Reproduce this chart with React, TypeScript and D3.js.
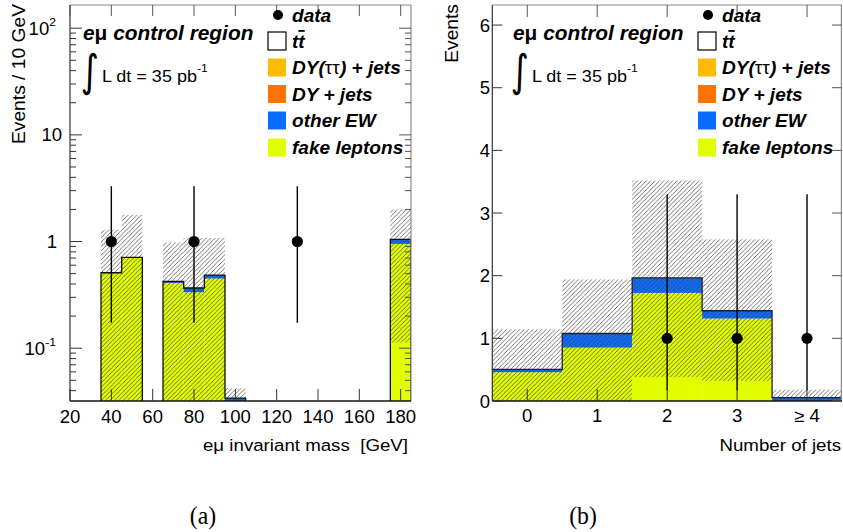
import React from 'react';
import * as d3 from 'd3';

// ---------- data: panel (a) e-mu invariant mass ----------
const massCenters = [40, 50, 70, 80, 90, 100, 180];
const massFake = [0.51, 0.71, 0.41, 0.335, 0.45, 0, 0.95];
const massOtherEW = [0, 0, 0.012, 0.032, 0.035, 0.034, 0.1];
const massBandHigh = [1.29, 1.78, 0.98, 1.08, 1.08, 0.042, 2.0];
const massBandLow = [0, 0, 0, 0, 0, 0, 0.113];
const massDataX = [40, 80, 130];
const massDataY = [1, 1, 1];
const massDataLow = [0.173, 0.173, 0.173];
const massDataHigh = [3.3, 3.3, 3.3];
const massTicks = [20, 40, 60, 80, 100, 120, 140, 160, 180];
const logMajor = [0.1, 1, 10, 100];
const logLabels = [['10', '-1'], ['1', ''], ['10', ''], ['10', '2']];

// ---------- data: panel (b) number of jets ----------
const jetLabels = ['0', '1', '2', '3', '\u2265 4'];
const jetFake = [0.46, 0.853, 1.725, 1.316, 0];
const jetOtherEW = [0.046, 0.224, 0.24, 0.124, 0.055];
const jetBandHigh = [1.145, 1.94, 3.52, 2.58, 0.18];
const jetBandLow = [0, 0, 0.38, 0.32, 0];
const jetDataBins = [2, 3, 4];
const jetDataY = [1, 1, 1];
const jetDataLow = [0.173, 0.173, 0.173];
const jetDataHigh = [3.3, 3.3, 3.3];
const jetYTicks = [0, 1, 2, 3, 4, 5, 6];

// ---------- legend ----------
const legendNames = ['data', 'tt', 'DY(\u03c4\u03c4) + jets', 'DY + jets', 'other EW', 'fake leptons'];
const legendColors = ['#000000', '#ffffff', '#ffbb00', '#ff7400', '#0a6cff', '#e1ff00'];

const SANS = 'Liberation Sans, Arial, Helvetica, sans-serif';
const SERIF = 'Liberation Serif, DejaVu Serif, serif';
const FAKE_COLOR = legendColors[5];
const EW_COLOR = legendColors[4];

function T(props: any) {
  const { x, y, sx = 1.1, anchor = 'start', size = 17, weight = 'normal', fstyle = 'normal', rotate = 0, family = SANS, children, fill = '#000' } = props;
  return (
    <text
      transform={`translate(${x},${y})${rotate ? ` rotate(${rotate})` : ''} scale(${sx},1)`}
      textAnchor={anchor}
      fontSize={size}
      fontWeight={weight}
      fontStyle={fstyle}
      fontFamily={family}
      fill={fill}
    >
      {children}
    </text>
  );
}

function Legend({ dx }: { dx: number }) {
  const bx = 268 + dx;
  const tx = 292 + dx;
  const rows = [15, 41, 67.5, 94, 120.5, 147.5];
  return (
    <g>
      {legendNames.map((name, i) => {
        const cy = rows[i];
        let mark;
        if (i === 0) mark = <circle cx={bx + 10} cy={cy} r={5} fill="#000" />;
        else mark = <rect x={bx} y={cy - 9} width={18} height={18} fill={legendColors[i]} stroke={i === 1 ? '#000' : 'none'} strokeWidth={1.2} />;
        let label: any = name;
        if (i === 1) label = [<tspan key="a">t</tspan>, <tspan key="b" textDecoration="overline">t</tspan>];
        if (i === 2) label = [<tspan key="a">DY(</tspan>, <tspan key="b" fontStyle="normal" fontWeight="normal">{'\u03c4\u03c4'}</tspan>, <tspan key="c">) + jets</tspan>];
        return (
          <g key={name}>
            {mark}
            <T x={tx} y={cy + 6.5} size={18} sx={1.06} weight="bold" fstyle="italic">{label}</T>
          </g>
        );
      })}
    </g>
  );
}

function Title({ dx }: { dx: number }) {
  return (
    <g>
      <T x={83 + dx} y={40} size={19.5} sx={1.07} weight="bold" fstyle="italic">
        <tspan>e</tspan>
        <tspan fontStyle="normal">{'\u03bc'}</tspan>
        <tspan> control region</tspan>
      </T>
      <T x={90 + dx} y={85.5} size={44} sx={0.8} family="DejaVu Sans" anchor="middle">{'\u222b'}</T>
      <T x={102 + dx} y={82} size={17} sx={1.06}>
        L dt = 35 pb<tspan dy={-10} fontSize={11.5}>-1</tspan>
      </T>
    </g>
  );
}

function StackRects({ xs, halfW, fake, ew, xScale, yv, bottom }: any) {
  return (
    <g>
      {xs.map((c: number, i: number) => {
        const x0 = xScale(c - halfW);
        const x1 = xScale(c + halfW);
        const yF = fake[i] > 0 ? yv(fake[i]) : bottom;
        const yT = fake[i] + ew[i] > 0 ? yv(fake[i] + ew[i]) : bottom;
        return (
          <g key={i}>
            {fake[i] > 0 && <rect x={x0} y={yF} width={x1 - x0} height={bottom - yF} fill={FAKE_COLOR} />}
            {ew[i] > 0 && <rect x={x0} y={yT} width={x1 - x0} height={yF - yT} fill={EW_COLOR} />}
          </g>
        );
      })}
    </g>
  );
}

function Band({ xs, halfW, lo, hi, xScale, yv, bottom }: any) {
  return (
    <g>
      {xs.map((c: number, i: number) => {
        const x0 = xScale(c - halfW);
        const x1 = xScale(c + halfW);
        const yH = yv(hi[i]);
        const yL = lo[i] > 0 ? yv(lo[i]) : bottom;
        return <rect key={i} x={x0} y={yH} width={x1 - x0} height={yL - yH} fill="url(#hatch)" />;
      })}
    </g>
  );
}

function outlinePath(xs: number[], halfW: number, totals: number[], xScale: any, yv: any, bottom: number) {
  let d = '';
  let prevEnd: number | null = null;
  xs.forEach((c, i) => {
    const lo = c - halfW;
    const hi = c + halfW;
    const yT = totals[i] > 0 ? yv(totals[i]) : bottom;
    if (prevEnd !== null && Math.abs(prevEnd - lo) < 1e-9) {
      d += `L${xScale(lo)},${yT}`;
    } else {
      d += `M${xScale(lo)},${bottom}L${xScale(lo)},${yT}`;
    }
    d += `L${xScale(hi)},${yT}`;
    const next = xs[i + 1];
    if (next === undefined || Math.abs(next - halfW - hi) > 1e-9) d += `L${xScale(hi)},${bottom}`;
    prevEnd = hi;
  });
  return d;
}

export default function App() {
  // ---------- panel (a) ----------
  const aL = 70, aR = 411, aT = 5, aB = 401;
  const xA = d3.scaleLinear().domain([20, 185]).range([aL, aR]);
  const yA = d3.scaleLog().domain([0.032, 165]).range([aB, aT]);
  const yAv = (v: number) => Math.max(aT, Math.min(aB, yA(Math.max(v, 1e-6))));
  const massTot = massFake.map((f, i) => f + massOtherEW[i]);
  const minorA: number[] = [];
  [0.01, 0.1, 1, 10, 100].forEach((dec) => {
    for (let k = 2; k <= 9; k++) {
      const v = dec * k;
      if (v > 0.032 && v < 165) minorA.push(v);
    }
  });

  // ---------- panel (b) ----------
  const bL = 492.3, bR = 842, bT = 5, bB = 401;
  const xB = d3.scaleLinear().domain([-0.5, 4.5]).range([bL, bR]);
  const yB = d3.scaleLinear().domain([0, 6.32]).range([bB, bT]);
  const yBv = (v: number) => Math.max(bT, Math.min(bB, yB(v)));
  const jetIdx = jetLabels.map((_, i) => i);
  const jetTot = jetFake.map((f, i) => f + jetOtherEW[i]);

  return (
    <svg width={843} height={532} style={{ position: 'absolute', left: 0, top: 0, background: '#fff' }}>
      <defs>
        <pattern id="hatch" patternUnits="userSpaceOnUse" width={4.4} height={4.4}>
          <path d="M-1,1 L1,-1 M0,4.4 L4.4,0 M3.4,5.4 L5.4,3.4" stroke="#444" strokeWidth={0.75} />
        </pattern>
        <clipPath id="clipA"><rect x={aL} y={aT} width={aR - aL} height={aB - aT} /></clipPath>
        <clipPath id="clipB"><rect x={bL} y={bT} width={bR - bL} height={bB - bT} /></clipPath>
      </defs>
      <rect x={0} y={0} width={843} height={532} fill="#fff" />

      {/* ===== panel (a) ===== */}
      <g clipPath="url(#clipA)">
        <StackRects xs={massCenters} halfW={5} fake={massFake} ew={massOtherEW} xScale={xA} yv={yAv} bottom={aB} />
        <Band xs={massCenters} halfW={5} lo={massBandLow} hi={massBandHigh} xScale={xA} yv={yAv} bottom={aB} />
        <path d={outlinePath(massCenters, 5, massTot, xA, yAv, aB)} fill="none" stroke="#111" strokeWidth={1.3} />
        {massDataX.map((x, i) => (
          <g key={i}>
            <line x1={xA(x)} x2={xA(x)} y1={yA(massDataLow[i])} y2={yA(massDataHigh[i])} stroke="#000" strokeWidth={1.4} />
            <circle cx={xA(x)} cy={yA(massDataY[i])} r={5.6} fill="#000" />
          </g>
        ))}
      </g>
      {/* frame */}
      <line x1={aL} x2={aR} y1={aT} y2={aT} stroke="#8a8a8a" strokeWidth={1.2} />
      <line x1={aR} x2={aR} y1={aT} y2={aB} stroke="#8a8a8a" strokeWidth={1.2} />
      <line x1={aL} x2={aL} y1={aT} y2={aB} stroke="#333" strokeWidth={1.2} />
      <line x1={aL} x2={aR} y1={aB} y2={aB} stroke="#111" strokeWidth={1.4} />
      {massTicks.map((t) => (
        <g key={t}>
          <line x1={xA(t)} x2={xA(t)} y1={aB} y2={aB - 12} stroke="#333" strokeWidth={1} />
          <line x1={xA(t)} x2={xA(t)} y1={aT} y2={aT + 11} stroke="#555" strokeWidth={1} />
          <T x={xA(t)} y={423} anchor="middle" size={17.5} sx={1.06}>{String(t)}</T>
        </g>
      ))}
      {logMajor.map((v, i) => (
        <g key={v}>
          <line x1={aL} x2={aL + 12} y1={yA(v)} y2={yA(v)} stroke="#333" strokeWidth={1} />
          <line x1={aR} x2={aR - 12} y1={yA(v)} y2={yA(v)} stroke="#555" strokeWidth={1} />
          <T x={logLabels[i][0] === '1' ? 57 : 62 - (logLabels[i][1] ? 6 : 0)} y={yA(v) + 6.5} anchor="end" size={17.5} sx={1.06}>
            {logLabels[i][0]}
            {logLabels[i][1] && <tspan dy={-9} fontSize={11.5}>{logLabels[i][1]}</tspan>}
          </T>
        </g>
      ))}
      {minorA.map((v) => (
        <g key={v}>
          <line x1={aL} x2={aL + 6} y1={yA(v)} y2={yA(v)} stroke="#333" strokeWidth={1} />
          <line x1={aR} x2={aR - 6} y1={yA(v)} y2={yA(v)} stroke="#555" strokeWidth={1} />
        </g>
      ))}
      <T x={25} y={4} rotate={-90} anchor="end" size={17.5} sx={1.1}>Events / 10 GeV</T>
      <T x={408} y={451} anchor="end" size={17} sx={1.1}>
        e<tspan>{'\u03bc'}</tspan> invariant mass {'\u00a0'}[GeV]
      </T>
      <Title dx={0} />
      <Legend dx={0} />

      {/* ===== panel (b) ===== */}
      <g clipPath="url(#clipB)">
        <StackRects xs={jetIdx} halfW={0.5} fake={jetFake} ew={jetOtherEW} xScale={xB} yv={yBv} bottom={bB} />
        <Band xs={jetIdx} halfW={0.5} lo={jetBandLow} hi={jetBandHigh} xScale={xB} yv={yBv} bottom={bB} />
        <path d={outlinePath(jetIdx, 0.5, jetTot, xB, yBv, bB)} fill="none" stroke="#222" strokeWidth={1.3} />
        {jetDataBins.map((b, i) => (
          <g key={b}>
            <line x1={xB(b)} x2={xB(b)} y1={yB(jetDataLow[i])} y2={yB(jetDataHigh[i])} stroke="#000" strokeWidth={1.4} />
            <circle cx={xB(b)} cy={yB(jetDataY[i])} r={5.6} fill="#000" />
          </g>
        ))}
      </g>
      <line x1={bL} x2={bR} y1={bT} y2={bT} stroke="#8a8a8a" strokeWidth={1.2} />
      <line x1={bR - 0.6} x2={bR - 0.6} y1={bT} y2={bB} stroke="#8a8a8a" strokeWidth={1.2} />
      <line x1={bL} x2={bL} y1={bT} y2={bB} stroke="#333" strokeWidth={1.2} />
      <line x1={bL} x2={bR} y1={bB} y2={bB} stroke="#111" strokeWidth={1.4} />
      {jetIdx.map((b) => (
        <g key={b}>
          <line x1={xB(b)} x2={xB(b)} y1={bB} y2={bB - 12} stroke="#333" strokeWidth={1} />
          <line x1={xB(b)} x2={xB(b)} y1={bT} y2={bT + 12} stroke="#555" strokeWidth={1} />
          <T x={xB(b)} y={422} anchor="middle" size={17.5} sx={1.06}>{jetLabels[b]}</T>
        </g>
      ))}
      {jetYTicks.map((v) => (
        <g key={v}>
          <line x1={bL} x2={bL + 10} y1={yB(v)} y2={yB(v)} stroke="#333" strokeWidth={1} />
          <line x1={bR} x2={bR - 10} y1={yB(v)} y2={yB(v)} stroke="#555" strokeWidth={1} />
          <T x={490} y={yB(v) + 6.5} anchor="end" size={17.5} sx={1.06}>{String(v)}</T>
        </g>
      ))}
      <T x={458} y={4} rotate={-90} anchor="end" size={17.5} sx={1.1}>Events</T>
      <T x={841} y={451} anchor="end" size={17} sx={1.1}>Number of jets</T>
      <Title dx={430} />
      <Legend dx={430} />

      {/* captions */}
      <T x={203} y={524} anchor="middle" size={25} sx={0.95} family={SERIF}>(a)</T>
      <T x={583} y={524} anchor="middle" size={25} sx={0.95} family={SERIF}>(b)</T>
    </svg>
  );
}
